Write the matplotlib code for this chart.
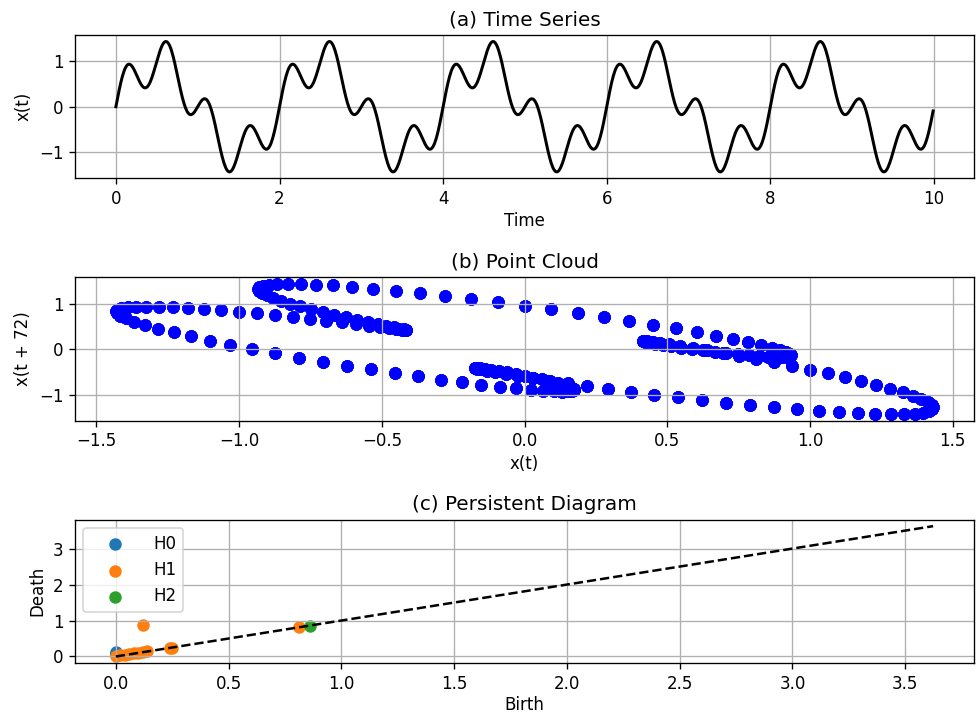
import matplotlib
matplotlib.use('Agg')
import matplotlib.pyplot as plt
import numpy as np

# one period (t = 0.00 .. 1.99, step 0.01) of the signal
period = [
    0.000, 0.094, 0.187, 0.278, 0.366, 0.450, 0.530, 0.603, 0.671, 0.731,
    0.785, 0.830, 0.867, 0.896, 0.917, 0.930, 0.934, 0.931, 0.921, 0.904,
    0.882, 0.854, 0.822, 0.786, 0.747, 0.707, 0.666, 0.626, 0.586, 0.549,
    0.515, 0.485, 0.459, 0.439, 0.424, 0.416, 0.414, 0.419, 0.431, 0.450,
    0.476, 0.508, 0.546, 0.591, 0.640, 0.694, 0.751, 0.812, 0.874, 0.937,
    1.000, 1.062, 1.122, 1.180, 1.233, 1.282, 1.325, 1.361, 1.391, 1.413,
    1.427, 1.432, 1.429, 1.417, 1.396, 1.367, 1.329, 1.283, 1.230, 1.169,
    1.103, 1.031, 0.955, 0.874, 0.792, 0.707, 0.622, 0.537, 0.453, 0.372,
    0.294, 0.220, 0.151, 0.087, 0.029, -0.022, -0.065, -0.102, -0.131, -0.152,
    -0.167, -0.173, -0.174, -0.167, -0.155, -0.138, -0.116, -0.090, -0.062, -0.031,
    0.000, 0.031, 0.062, 0.090, 0.116, 0.138, 0.155, 0.167, 0.174, 0.173,
    0.167, 0.152, 0.131, 0.102, 0.065, 0.022, -0.029, -0.087, -0.151, -0.220,
    -0.294, -0.372, -0.453, -0.537, -0.622, -0.707, -0.792, -0.874, -0.955, -1.031,
    -1.103, -1.169, -1.230, -1.283, -1.329, -1.367, -1.396, -1.417, -1.429, -1.432,
    -1.427, -1.413, -1.391, -1.361, -1.325, -1.282, -1.233, -1.180, -1.122, -1.062,
    -1.000, -0.937, -0.874, -0.812, -0.751, -0.694, -0.640, -0.591, -0.546, -0.508,
    -0.476, -0.450, -0.431, -0.419, -0.414, -0.416, -0.424, -0.439, -0.459, -0.485,
    -0.515, -0.549, -0.586, -0.626, -0.666, -0.707, -0.747, -0.786, -0.822, -0.854,
    -0.882, -0.904, -0.921, -0.931, -0.934, -0.930, -0.917, -0.896, -0.867, -0.830,
    -0.785, -0.731, -0.671, -0.603, -0.530, -0.450, -0.366, -0.278, -0.187, -0.094,
]
n_periods = 5
dt = 0.01
lag = 72

# persistence diagram (birth, death)
h0_birth = [0.0, 0.0, 0.0, 0.0]
h0_death = [0.03, 0.06, 0.09, 0.13]
h1_birth = [0.0, 0.02, 0.04, 0.06, 0.08, 0.10, 0.12, 0.14, 0.24, 0.25, 0.12, 0.81]
h1_death = [0.01, 0.03, 0.05, 0.07, 0.09, 0.11, 0.13, 0.15, 0.25, 0.25, 0.87, 0.83]
h2_birth = [0.86]
h2_death = [0.86]
diag_max = 3.624

# 시계열 데이터
x = np.tile(period, n_periods)
t = np.arange(len(x)) * dt

dpi = 120
fig = plt.figure(figsize=(977 / dpi, 716 / dpi), dpi=dpi)
fig.subplots_adjust(left=0.0768, right=0.9969, top=0.9511, bottom=0.0740, hspace=0.69)

# (a) 시계열
ax1 = fig.add_subplot(3, 1, 1)
ax1.plot(t, x, color='black', lw=1.8)
ax1.set_title('(a) Time Series')
ax1.set_xlabel('Time', labelpad=2.5)
ax1.set_ylabel('x(t)')
ax1.grid(True)

# (b) 지연 임베딩 포인트 클라우드
ax2 = fig.add_subplot(3, 1, 2)
ax2.scatter(x[:-lag], x[lag:], color='blue', s=42)
ax2.set_title('(b) Point Cloud')
ax2.set_xlabel('x(t)', labelpad=2.5)
ax2.set_ylabel('x(t + 72)')
ax2.grid(True)

# (c) 퍼시스턴스 다이어그램
ax3 = fig.add_subplot(3, 1, 3)
ax3.scatter(h0_birth, h0_death, s=42, label='H0')
ax3.scatter(h1_birth, h1_death, s=42, label='H1')
ax3.scatter(h2_birth, h2_death, s=42, label='H2')
ax3.plot([0, diag_max], [0, diag_max], 'k--')
ax3.set_title('(c) Persistent Diagram')
ax3.set_xlabel('Birth', labelpad=2)
ax3.set_ylabel('Death')
ax3.legend(loc='upper left', handlelength=3.0)
ax3.grid(True)

plt.savefig('out.png', dpi=dpi)
